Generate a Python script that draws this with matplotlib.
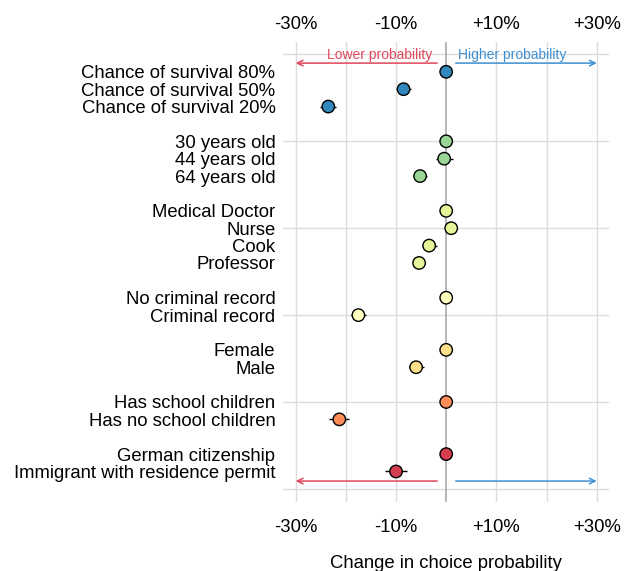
import matplotlib
matplotlib.use("Agg")
import matplotlib.pyplot as plt
import numpy as np

plt.rcParams['font.family'] = ['Liberation Sans', 'DejaVu Sans']

labels = ["Chance of survival 80%", "Chance of survival 50%", "Chance of survival 20%",
          "30 years old", "44 years old", "64 years old",
          "Medical Doctor", "Nurse", "Cook", "Professor",
          "No criminal record", "Criminal record",
          "Female", "Male",
          "Has school children", "Has no school children",
          "German citizenship", "Immigrant with residence permit"]
groups = [3, 3, 4, 2, 2, 2, 2]
effects = [0.0, -8.5, -23.5,
           0.0, -0.4, -5.2,
           0.0, 1.0, -3.4, -5.4,
           0.0, -17.5,
           0.0, -6.0,
           0.0, -21.3,
           0.0, -10.0]
errors = [0.0, 1.5, 1.6,
          0.0, 1.7, 1.4,
          0.0, 0.8, 1.5, 1.1,
          0.0, 1.5,
          0.0, 1.5,
          0.0, 2.0,
          0.0, 2.2]
group_colors = ['#3288bd', '#99d594', '#e6f598', '#ffffbf', '#fee08b', '#fc8d59', '#d53e4f']
ticks = [-30, -10, 10, 30]
tick_labels = ['-30%', '-10%', '+10%', '+30%']

# y positions: one row per level, a blank row between groups
ypos = []
colors = []
y = 24
for g, n in enumerate(groups):
    for i in range(n):
        ypos.append(y)
        colors.append(group_colors[g])
        y -= 1
    y -= 1

fig = plt.figure(figsize=(6.32, 5.71), dpi=100)
ax = fig.add_axes([0.448, 0.121, 0.516, 0.805])

for v in [-30, -20, -10, 10, 20, 30]:
    ax.axvline(v, color='#dcdcdc', lw=1, zorder=0)
for h in range(0, 26, 5):
    ax.axhline(h, color='#dcdcdc', lw=1, zorder=0)
ax.axvline(0, color='#aaaaaa', lw=1.2, zorder=0)

ax.errorbar(effects, ypos, xerr=errors, fmt='none', ecolor='black', elinewidth=1, zorder=2)
ax.scatter(effects, ypos, s=80, c=colors, edgecolors='black', linewidths=1, zorder=3)

red = '#e0475a'
blue = '#3f8fd0'
for ya in [24.5, 0.45]:
    ax.annotate('', xy=(-30, ya), xytext=(-1.8, ya),
                arrowprops=dict(arrowstyle='->', color=red, lw=1.1, shrinkA=0, shrinkB=0))
    ax.annotate('', xy=(30, ya), xytext=(1.9, ya),
                arrowprops=dict(arrowstyle='->', color=blue, lw=1.1, shrinkA=0, shrinkB=0))
ax.text(-2.8, 24.55, 'Lower probability', color=red, fontsize=10, ha='right', va='bottom')
ax.text(2.4, 24.55, 'Higher probability', color=blue, fontsize=10, ha='left', va='bottom')

ax.set_xlim(-32.5, 32.5)
ax.set_ylim(-0.75, 25.7)
ax.set_xticks(ticks)
ax.set_xticklabels(tick_labels, fontsize=13.3)
ax.set_yticks(ypos)
ax.set_yticklabels(labels, fontsize=13.3)
ax.tick_params(axis='both', length=0)
ax.tick_params(axis='x', pad=12)
ax.tick_params(axis='y', pad=5.5)
for s in ax.spines.values():
    s.set_visible(False)
ax.set_xlabel('Change in choice probability', fontsize=13.3, labelpad=14)

top = ax.secondary_xaxis('top')
top.set_xticks(ticks)
top.set_xticklabels(tick_labels, fontsize=13.3)
top.tick_params(length=0, pad=7)
top.spines['top'].set_visible(False)

fig.savefig('out.png', dpi=100)
